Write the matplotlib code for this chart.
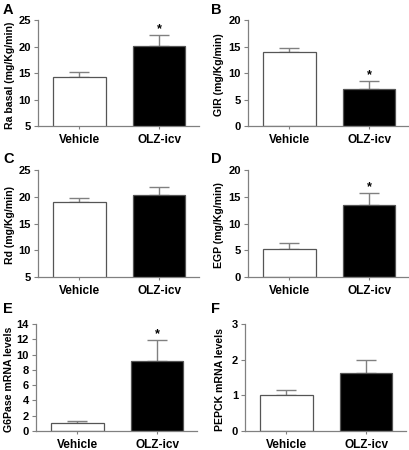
import matplotlib
matplotlib.use("Agg")
import matplotlib.pyplot as plt

plt.rcParams['font.family'] = ['Liberation Sans', 'DejaVu Sans']
plt.rcParams['font.weight'] = 'bold'

groups = ["Vehicle", "OLZ-icv"]
panel_letters = ["A", "B", "C", "D", "E", "F"]
ylabels = ["Ra basal (mg/Kg/min)", "GIR (mg/Kg/min)", "Rd (mg/Kg/min)",
           "EGP (mg/Kg/min)", "G6Pase mRNA levels", "PEPCK mRNA levels"]
means_A = [14.3, 20.1]
errs_A = [0.8, 2.1]
means_B = [13.9, 7.0]
errs_B = [0.9, 1.4]
means_C = [19.0, 20.4]
errs_C = [0.8, 1.5]
means_D = [5.2, 13.4]
errs_D = [1.1, 2.3]
means_E = [1.0, 9.1]
errs_E = [0.25, 2.8]
means_F = [1.0, 1.63]
errs_F = [0.15, 0.37]
ylims = [(5, 25), (0, 20), (5, 25), (0, 20), (0, 14), (0, 3)]
yticks = [[5, 10, 15, 20, 25], [0, 5, 10, 15, 20], [5, 10, 15, 20, 25],
          [0, 5, 10, 15, 20], [0, 2, 4, 6, 8, 10, 12, 14], [0, 1, 2, 3]]
stars = [True, True, False, True, True, False]
means = [means_A, means_B, means_C, means_D, means_E, means_F]
errs = [errs_A, errs_B, errs_C, errs_D, errs_E, errs_F]

W, H = 410, 450
fig = plt.figure(figsize=(W / 100, H / 100), dpi=100)

# pixel boxes: left, top, right, bottom
boxes = [(38, 20, 199, 126), (248, 20, 409, 126),
         (38, 170, 199, 277), (248, 170, 409, 277),
         (36, 324, 197, 431), (245, 324, 406, 431)]
letter_pos = [(3, 3), (211, 3), (3, 152), (211, 152), (3, 302), (211, 302)]
ylabel_x = [10, 219, 10, 219, 9, 220]

axc = '#808080'
for i in range(6):
    l, t, r, b = boxes[i]
    ax = fig.add_axes([l / W, 1 - b / H, (r - l) / W, (b - t) / H])
    x = [0, 1]
    ax.bar(x, means[i], width=0.66, color=['white', 'black'],
           edgecolor='#555555', linewidth=0.9, zorder=2)
    ax.errorbar(x, means[i], yerr=[[0, 0], errs[i]], fmt='none',
                ecolor=axc, elinewidth=1.0, capsize=7, capthick=1.0, zorder=1)
    ax.set_xlim(-0.52, 1.5)
    ax.set_ylim(*ylims[i])
    ax.set_yticks(yticks[i])
    ax.set_xticks(x)
    ax.set_xticklabels(groups, fontsize=8.5, fontweight='bold')
    ax.tick_params(axis='y', labelsize=8, length=3, width=0.8, color=axc, pad=2)
    ax.tick_params(axis='x', length=2, width=0.8, color=axc, pad=4)
    for s in ['top', 'right']:
        ax.spines[s].set_visible(False)
    for s in ['left', 'bottom']:
        ax.spines[s].set_color(axc)
        ax.spines[s].set_linewidth(0.9)
    fig.text(ylabel_x[i] / W, 1 - ((t + b) / 2 + 2) / H, ylabels[i], rotation=90,
             ha='center', va='center', fontsize=7.6, fontweight='bold')
    if stars[i]:
        top = means[i][1] + errs[i][1]
        ax.text(1, top, '*', ha='center', va='bottom',
                fontsize=9, fontweight='bold')
    lx, ly = letter_pos[i]
    fig.text(lx / W, 1 - ly / H, panel_letters[i], ha='left', va='top',
             fontsize=10.5, fontweight='bold')

fig.savefig('out.png', dpi=100)
